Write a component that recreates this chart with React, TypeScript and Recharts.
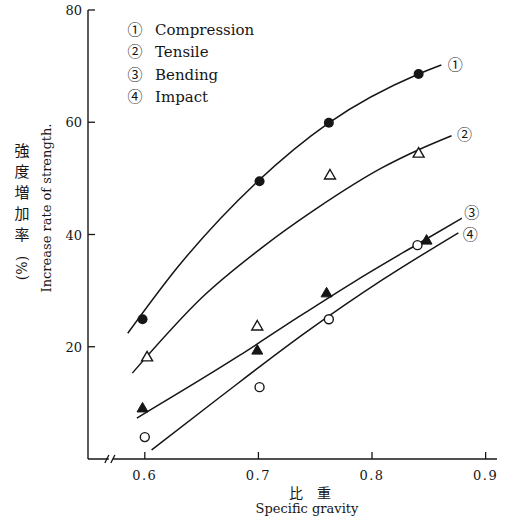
import React from 'react';
import { ComposedChart, Line, Scatter, XAxis, YAxis, ReferenceDot } from 'recharts';

// ---- data ----
const xTicks = [0.6, 0.7, 0.8, 0.9];
const yTicks = [20, 40, 60, 80];
const BREAK_X = 0.571;

const seriesNames = ['Compression', 'Tensile', 'Bending', 'Impact'];
const seriesMarks = ['①', '②', '③', '④'];

const compressionPts = [
  { x: 0.598, y: 24.9 },
  { x: 0.701, y: 49.5 },
  { x: 0.762, y: 59.9 },
  { x: 0.841, y: 68.6 },
];
const tensilePts = [
  { x: 0.602, y: 18.2 },
  { x: 0.699, y: 23.7 },
  { x: 0.763, y: 50.6 },
  { x: 0.841, y: 54.5 },
];
const bendingPts = [
  { x: 0.598, y: 9.1 },
  { x: 0.699, y: 19.4 },
  { x: 0.76, y: 29.6 },
  { x: 0.848, y: 39.0 },
];
const impactPts = [
  { x: 0.6, y: 3.9 },
  { x: 0.701, y: 12.8 },
  { x: 0.762, y: 24.9 },
  { x: 0.84, y: 38.1 },
];

// fitted curves as drawn in the figure
const compressionCurve = [
  { x: 0.585, y: 22.4 },
  { x: 0.629, y: 34.2 },
  { x: 0.699, y: 49.4 },
  { x: 0.762, y: 59.9 },
  { x: 0.841, y: 68.6 },
  { x: 0.861, y: 70.2 },
];
const tensileCurve = [
  { x: 0.589, y: 15.3 },
  { x: 0.651, y: 28.9 },
  { x: 0.704, y: 37.8 },
  { x: 0.751, y: 44.6 },
  { x: 0.809, y: 51.9 },
  { x: 0.841, y: 55.1 },
  { x: 0.87, y: 57.6 },
];
const bendingCurve = [
  { x: 0.593, y: 7.3 },
  { x: 0.683, y: 18.4 },
  { x: 0.736, y: 25.4 },
  { x: 0.786, y: 31.8 },
  { x: 0.841, y: 38.4 },
  { x: 0.879, y: 42.9 },
];
const impactCurve = [
  { x: 0.606, y: 1.6 },
  { x: 0.666, y: 11.0 },
  { x: 0.742, y: 22.6 },
  { x: 0.809, y: 31.9 },
  { x: 0.876, y: 40.3 },
];

// ---- styling ----
const INK = '#161616';
const SERIF = '"DejaVu Serif", "Liberation Serif", serif';
const CIRC = '"Noto Sans CJK JP", "DejaVu Sans", sans-serif';
const TM = 8;

const XTick = (props: any) => {
  const { x, y, payload } = props;
  const ay = y - TM;
  return (
    <g>
      <line x1={x} x2={x} y1={ay} y2={ay - 7} stroke={INK} strokeWidth={1.3} />
      <text x={x} y={ay + 21} textAnchor="middle" fontFamily={SERIF} fontSize={13} fill={INK} letterSpacing={1.5}>
        {Number(payload.value).toFixed(1)}
      </text>
    </g>
  );
};

const YTick = (props: any) => {
  const { x, y, payload } = props;
  const ax = x + TM;
  return (
    <g>
      <line x1={ax} x2={ax + 7} y1={y} y2={y} stroke={INK} strokeWidth={1.3} />
      <text x={ax - 6} y={y + 5} textAnchor="end" fontFamily={SERIF} fontSize={13} fill={INK}>
        {payload.value}
      </text>
    </g>
  );
};

const FilledCircle = (p: any) => <circle cx={p.cx} cy={p.cy} r={5} fill={INK} />;
const OpenCircle = (p: any) => <circle cx={p.cx} cy={p.cy} r={4.5} fill="#fff" stroke={INK} strokeWidth={1.4} />;
const triPath = (cx: number, cy: number) => `M${cx},${cy - 5.5} L${cx + 5.5},${cy + 4} L${cx - 5.5},${cy + 4} Z`;
const OpenTri = (p: any) => <path d={triPath(p.cx, p.cy)} fill="#fff" stroke={INK} strokeWidth={1.4} />;
const FilledTri = (p: any) => <path d={triPath(p.cx, p.cy)} fill={INK} stroke={INK} strokeWidth={1} />;

const BreakMark = (p: any) => {
  const { cx, cy } = p;
  return (
    <g>
      <rect x={cx - 3} y={cy - 2} width={4} height={4} fill="#fff" />
      <line x1={cx - 7} y1={cy + 4} x2={cx - 3} y2={cy - 4} stroke={INK} strokeWidth={1.3} />
      <line x1={cx - 1} y1={cy + 4} x2={cx + 3} y2={cy - 4} stroke={INK} strokeWidth={1.3} />
    </g>
  );
};

const endLabel = (mark: string, n: number, dx: number, dy: number) => (props: any) => {
  const { x, y, index } = props;
  if (index !== n - 1) return null;
  return (
    <text key={mark} x={x + dx} y={y + dy + 5} textAnchor="middle" fontFamily={CIRC} fontSize={15} fill={INK}>
      {mark}
    </text>
  );
};

export default function App() {
  const legendY = [35, 57, 80, 102];
  const jp = ['強', '度', '増', '加', '率'];
  return (
    <div style={{ position: 'absolute', left: 0, top: 0, width: 517, height: 532, background: '#fff' }}>
      <ComposedChart
        width={517}
        height={532}
        margin={{ top: 10, right: 20, bottom: 43, left: 0 }}
        style={{ position: 'absolute', left: 0, top: 0 }}
      >
        <XAxis
          type="number"
          dataKey="x"
          domain={[0.55, 0.91]}
          ticks={xTicks}
          allowDataOverflow
          height={30}
          tickSize={0}
          tickMargin={TM}
          tick={<XTick />}
          axisLine={{ stroke: INK, strokeWidth: 1.4 }}
          tickLine={false}
        />
        <YAxis
          type="number"
          dataKey="y"
          domain={[0, 80]}
          ticks={yTicks}
          allowDataOverflow
          width={88}
          tickSize={0}
          tickMargin={TM}
          tick={<YTick />}
          axisLine={{ stroke: INK, strokeWidth: 1.4 }}
          tickLine={false}
        />
        <Line data={compressionCurve} dataKey="y" type="monotone" stroke={INK} strokeWidth={1.5} dot={false}
          isAnimationActive={false} label={endLabel(seriesMarks[0], compressionCurve.length, 14, 0)} />
        <Line data={tensileCurve} dataKey="y" type="monotone" stroke={INK} strokeWidth={1.5} dot={false}
          isAnimationActive={false} label={endLabel(seriesMarks[1], tensileCurve.length, 13, -1)} />
        <Line data={bendingCurve} dataKey="y" type="monotone" stroke={INK} strokeWidth={1.5} dot={false}
          isAnimationActive={false} label={endLabel(seriesMarks[2], bendingCurve.length, 10, -5)} />
        <Line data={impactCurve} dataKey="y" type="monotone" stroke={INK} strokeWidth={1.5} dot={false}
          isAnimationActive={false} label={endLabel(seriesMarks[3], impactCurve.length, 12, 2)} />
        <Scatter data={compressionPts} shape={<FilledCircle />} isAnimationActive={false} />
        <Scatter data={tensilePts} shape={<OpenTri />} isAnimationActive={false} />
        <Scatter data={bendingPts} shape={<FilledTri />} isAnimationActive={false} />
        <Scatter data={impactPts} shape={<OpenCircle />} isAnimationActive={false} />
        <ReferenceDot x={BREAK_X} y={0} ifOverflow="visible" shape={<BreakMark />} />
      </ComposedChart>
      <svg width={517} height={532} style={{ position: 'absolute', left: 0, top: 0, pointerEvents: 'none' }}>
        {seriesNames.map((name, i) => (
          <g key={name}>
            <text x={135} y={legendY[i]} textAnchor="middle" fontFamily={CIRC} fontSize={15} fill={INK}>
              {seriesMarks[i]}
            </text>
            <text x={155} y={legendY[i]} fontFamily={SERIF} fontSize={15} fill={INK}>
              {name}
            </text>
          </g>
        ))}
        {jp.map((c, i) => (
          <text key={c} x={22} y={156 + i * 21} textAnchor="middle" fontFamily={CIRC} fontSize={15} fill={INK}>
            {c}
          </text>
        ))}
        <text x={22} y={268} transform="rotate(-90 22 268)" textAnchor="middle" dominantBaseline="central"
          fontFamily={SERIF} fontSize={14} fill={INK}>
          (%)
        </text>
        <text x={46} y={208} transform="rotate(-90 46 208)" textAnchor="middle" dominantBaseline="central"
          fontFamily={SERIF} fontSize={13} fill={INK}>
          Increase rate of strength.
        </text>
        <text x={310} y={498} textAnchor="middle" fontFamily={CIRC} fontSize={14} fill={INK}>
          比　重
        </text>
        <text x={307} y={513} textAnchor="middle" fontFamily={SERIF} fontSize={13} fill={INK}>
          Specific gravity
        </text>
      </svg>
    </div>
  );
}
